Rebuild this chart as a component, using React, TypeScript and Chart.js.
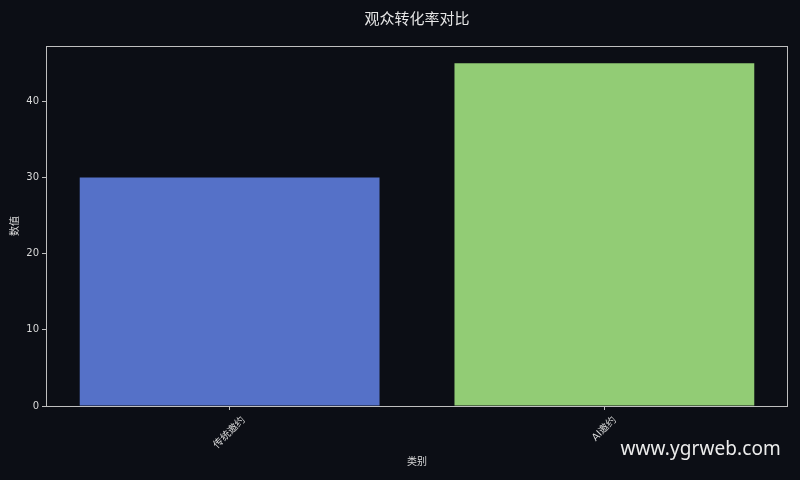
import { useEffect, useRef } from "react"
import { Chart, registerables } from "chart.js"

Chart.register(...registerables)

const categories = ["传统邀约", "AI邀约"]
const values = [30, 45]
const barColors = ["#5571c8", "#92cc75"]
const yTicks = [0, 10, 20, 30, 40]

const BG = "#0c0e15"
const TEXT = "#d9d9d9"
const CJK = "'DejaVu Sans', 'Noto Sans CJK SC', sans-serif"

// Frame, centered title and rotated category labels (centred on their ticks)
const framePlugin = {
  id: "frame",
  afterDraw(chart: Chart) {
    const { ctx, chartArea } = chart
    const xScale = chart.scales.x
    ctx.save()
    ctx.strokeStyle = "#bfbfbf"
    ctx.lineWidth = 1
    ctx.strokeRect(chartArea.left + 0.5, chartArea.top + 0.5, chartArea.right - chartArea.left - 1, chartArea.bottom - chartArea.top)

    ctx.fillStyle = "#e6e6e6"
    ctx.font = "15px 'Noto Sans CJK SC', sans-serif"
    ctx.textAlign = "center"
    ctx.textBaseline = "middle"
    ctx.fillText("观众转化率对比", (chartArea.left + chartArea.right) / 2, 18)

    ctx.fillStyle = TEXT
    ctx.font = `10px ${CJK}`
    categories.forEach((label, i) => {
      const w = ctx.measureText(label).width
      const box = (w + 10) * Math.SQRT1_2
      const cx = xScale.getPixelForValue(i)
      const cy = chartArea.bottom + 9 + box / 2
      ctx.save()
      ctx.translate(cx, cy)
      ctx.rotate(-Math.PI / 4)
      ctx.fillText(label, 0, 0)
      ctx.restore()
    })
    ctx.restore()
  },
}

export default function App() {
  const canvasRef = useRef<HTMLCanvasElement>(null)
  const chartInstance = useRef<Chart | null>(null)

  useEffect(() => {
    document.body.style.margin = "0"
    document.body.style.background = BG
    if (!canvasRef.current) return
    if (chartInstance.current) chartInstance.current.destroy()

    chartInstance.current = new Chart(canvasRef.current, {
      type: "bar",
      data: {
        datasets: [
          {
            data: values.map((v, i) => ({ x: i, y: v })),
            backgroundColor: barColors,
            borderWidth: 0,
            categoryPercentage: 1,
            barPercentage: 0.8,
          },
        ],
      },
      options: {
        animation: false,
        responsive: false,
        layout: { padding: { top: 46, right: 12, left: 0, bottom: 0 } },
        plugins: {
          legend: { display: false },
          tooltip: { enabled: false },
        },
        scales: {
          x: {
            type: "linear",
            min: -0.49,
            max: 1.49,
            offset: false,
            afterFit: (scale: any) => {
              scale.height = 74
            },
            afterBuildTicks: (scale: any) => {
              scale.ticks = categories.map((_, i) => ({ value: i }))
            },
            grid: {
              offset: false,
              drawOnChartArea: false,
              drawTicks: true,
              tickLength: 4,
              color: "#bfbfbf",
            },
            border: { display: false },
            ticks: {
              color: "rgba(0,0,0,0)",
              font: { size: 10, family: CJK },
              callback: (v: any) => categories[v] ?? "",
              maxRotation: 0,
            },
            title: {
              display: true,
              text: "类别",
              color: TEXT,
              font: { size: 10, family: CJK },
              padding: { top: 0, bottom: 12 },
            },
          },
          y: {
            min: 0,
            max: 47.25,
            afterFit: (scale: any) => {
              scale.width = 46
            },
            afterBuildTicks: (scale: any) => {
              scale.ticks = yTicks.map((v) => ({ value: v }))
            },
            grid: {
              drawOnChartArea: false,
              drawTicks: true,
              tickLength: 4,
              color: "#bfbfbf",
            },
            border: { display: false },
            ticks: {
              color: TEXT,
              font: { size: 10, family: CJK },
              padding: 3,
            },
            title: {
              display: true,
              text: "数值",
              color: TEXT,
              font: { size: 10, family: CJK },
              padding: { top: 9, bottom: 0 },
            },
          },
        },
      },
      plugins: [framePlugin],
    })

    return () => {
      if (chartInstance.current) {
        chartInstance.current.destroy()
        chartInstance.current = null
      }
    }
  }, [])

  return (
    <div style={{ position: "relative", width: 800, height: 480, background: BG }}>
      <canvas ref={canvasRef} width={800} height={480} style={{ display: "block" }} />
      <div
        style={{
          position: "absolute",
          right: 19,
          top: 434,
          color: "#ececec",
          fontFamily: "'Noto Sans', sans-serif",
          fontSize: 19,
          letterSpacing: 0.1,
          lineHeight: "28px",
        }}
      >
        www.ygrweb.com
      </div>
    </div>
  )
}
